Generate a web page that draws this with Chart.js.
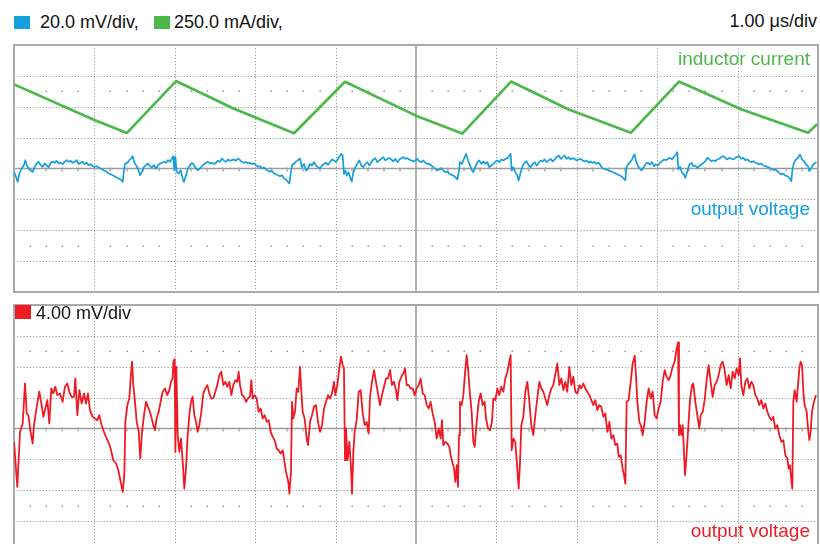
<!DOCTYPE html>
<html>
<head>
<meta charset="utf-8">
<title>Buck converter ripple</title>
<script src="https://cdn.jsdelivr.net/npm/chart.js@4.4.1/dist/chart.umd.min.js"></script>
<style>
  html, body { margin: 0; padding: 0; background: #fff; }
  body {
    width: 820px; height: 544px; position: relative; overflow: hidden;
    font-family: 'Liberation Sans', Arial, Helvetica, sans-serif;
  }
  canvas { position: absolute; left: 4px; }
  #topScope { top: 35px; }
  #bottomScope { top: 295px; }
  .label { position: absolute; font-size: 18px; line-height: 18px; white-space: nowrap; color: #111; }
  .trace { font-size: 19px; line-height: 19px; right: 10px; }
  .swatch { position: absolute; width: 16px; height: 13px; }
</style>
</head>
<body>
<canvas id="topScope" width="824" height="267"></canvas>
<canvas id="bottomScope" width="824" height="267"></canvas>

<div class="swatch" style="left:14px; top:16px; background:#159fdb;"></div>
<div class="label" style="left:40px; top:13px;" id="blueScale"></div>
<div class="swatch" style="left:154px; top:16px; background:#4cb849;"></div>
<div class="label" style="left:174px; top:13px;" id="greenScale"></div>
<div class="label" style="right:3px; top:12px;" id="timeScale"></div>

<div class="label trace" style="top:49px; color:#4cb849;" id="greenName"></div>
<div class="label trace" style="top:199px; color:#159fdb;" id="blueName"></div>

<div class="swatch" style="left:15px; top:305px; height:14px; background:#ed1c24;"></div>
<div class="label" style="left:36px; top:304px;" id="redScale"></div>
<div class="label trace" style="top:521px; color:#ed1c24;" id="redName"></div>

<script>
// channel settings (per division)
const TIME_PER_DIV = 1.0;      // µs
const BLUE_MV_PER_DIV = 20.0;
const GREEN_MA_PER_DIV = 250.0;
const RED_MV_PER_DIV = 4.0;

const scaleLabels = ['20.0 mV/div,', '250.0 mA/div,', '1.00 \u03bcs/div', '4.00 mV/div'];
const traceNames = ['inductor current', 'output voltage', 'output voltage'];

// inductor current, [µs, mA]
const greenTrace = [
    [0.000, 681], [0.986, 397], [1.405, 288], [2.015, 708], [2.730, 486],
    [3.483, 286], [4.117, 702], [5.000, 428], [5.576, 283], [6.182, 704],
    [6.900, 478], [7.674, 290], [8.271, 704], [9.050, 478], [9.876, 290],
    [9.988, 359]
];

// output voltage, AC coupled, [µs, mV]
const blueTrace = [
    [0.000,-2.17],[0.025,-5.41],[0.046,-8.66],[0.066,-3.25],[0.095,0.00],[0.124,2.17],[0.141,5.41],[0.158,2.17],
    [0.182,0.00],[0.207,-1.08],[0.232,-2.17],[0.257,1.08],[0.282,3.25],[0.307,4.33],[0.332,2.17],[0.357,1.08],
    [0.381,3.25],[0.406,2.17],[0.431,0.65],[0.456,3.68],[0.481,4.33],[0.506,3.68],[0.531,4.98],[0.556,3.25],
    [0.580,3.68],[0.605,2.81],[0.630,4.33],[0.655,5.41],[0.680,4.33],[0.705,4.98],[0.730,3.68],[0.755,4.33],
    [0.779,5.41],[0.804,2.81],[0.829,3.68],[0.854,4.33],[0.879,2.81],[0.904,3.68],[0.929,2.17],[0.954,2.81],
    [0.978,1.52],[1.003,1.08],[1.028,1.52],[1.053,0.65],[1.078,0.00],[1.103,-0.65],[1.128,-1.52],[1.153,-2.17],
    [1.177,-3.25],[1.202,-3.68],[1.227,-4.33],[1.252,-4.98],[1.277,-5.85],[1.302,-6.50],[1.327,-7.14],[1.352,-8.66],
    [1.368,-1.08],[1.381,3.25],[1.410,3.68],[1.434,5.41],[1.459,6.50],[1.476,8.01],[1.493,4.33],[1.517,2.17],
    [1.542,0.00],[1.567,-4.33],[1.592,-2.17],[1.617,1.08],[1.642,2.17],[1.667,3.25],[1.692,1.52],[1.716,0.65],
    [1.741,2.17],[1.766,0.00],[1.791,2.17],[1.816,3.25],[1.841,3.68],[1.866,4.33],[1.891,3.68],[1.915,5.41],
    [1.940,4.33],[1.965,6.50],[1.982,8.01],[1.994,-1.08],[2.007,7.58],[2.023,-2.17],[2.048,-3.25],[2.073,-1.08],
    [2.098,-6.50],[2.114,-8.66],[2.139,-4.33],[2.164,0.00],[2.189,2.17],[2.214,3.68],[2.239,2.17],[2.264,0.00],
    [2.289,-1.08],[2.313,0.00],[2.338,1.52],[2.363,2.81],[2.388,3.68],[2.413,4.33],[2.438,3.25],[2.463,3.68],
    [2.488,2.81],[2.512,3.68],[2.537,4.98],[2.562,4.33],[2.587,6.50],[2.612,4.98],[2.637,4.33],[2.662,5.85],
    [2.687,4.98],[2.711,5.41],[2.736,5.85],[2.761,4.98],[2.786,6.50],[2.811,5.41],[2.836,4.33],[2.861,3.68],
    [2.886,4.33],[2.910,3.25],[2.935,3.68],[2.960,2.81],[2.985,3.25],[3.010,2.17],[3.035,1.08],[3.060,1.52],
    [3.085,0.00],[3.109,0.65],[3.134,-0.65],[3.159,-1.52],[3.184,-2.17],[3.209,-1.52],[3.234,-3.25],[3.259,-3.68],
    [3.284,-4.33],[3.308,-4.98],[3.333,-4.33],[3.358,-6.50],[3.383,-7.14],[3.408,-8.66],[3.425,-9.74],[3.441,-3.25],
    [3.458,2.17],[3.483,3.25],[3.507,4.33],[3.532,5.41],[3.557,6.50],[3.582,0.87],[3.607,3.03],[3.632,-1.30],
    [3.657,-0.22],[3.682,3.03],[3.706,1.95],[3.731,4.11],[3.756,1.95],[3.781,0.87],[3.806,0.22],[3.831,1.95],
    [3.856,3.03],[3.881,3.68],[3.905,2.38],[3.930,4.11],[3.955,5.85],[3.980,5.20],[4.005,4.11],[4.030,6.28],
    [4.055,8.44],[4.071,9.53],[4.088,8.44],[4.104,-3.46],[4.121,-1.30],[4.138,-4.55],[4.163,-2.38],[4.179,-5.63],
    [4.200,-8.44],[4.221,-2.38],[4.245,0.87],[4.270,3.03],[4.295,5.20],[4.320,1.95],[4.345,0.87],[4.370,3.03],
    [4.395,4.11],[4.420,1.95],[4.444,4.11],[4.469,5.85],[4.494,6.71],[4.519,4.11],[4.544,5.20],[4.569,6.28],
    [4.594,7.36],[4.619,5.20],[4.643,6.28],[4.668,6.71],[4.693,5.85],[4.718,4.55],[4.743,6.28],[4.768,4.11],
    [4.793,5.85],[4.818,6.71],[4.842,7.36],[4.867,6.28],[4.892,6.71],[4.917,5.85],[4.942,5.20],[4.967,4.55],
    [4.992,5.20],[5.017,6.28],[5.041,4.55],[5.066,4.11],[5.091,5.20],[5.116,3.68],[5.141,3.03],[5.166,3.03],
    [5.191,1.95],[5.216,0.87],[5.240,-0.22],[5.265,-1.30],[5.290,-0.65],[5.315,0.22],[5.340,-1.30],[5.365,-2.38],
    [5.390,-1.95],[5.415,-3.46],[5.439,-4.11],[5.464,-4.55],[5.489,-5.63],[5.514,-7.14],[5.531,-2.38],[5.547,4.11],
    [5.572,3.03],[5.597,6.28],[5.622,9.53],[5.647,5.20],[5.672,1.95],[5.697,-1.30],[5.713,-2.38],[5.738,0.87],
    [5.763,4.11],[5.788,5.20],[5.813,3.03],[5.837,4.55],[5.862,3.03],[5.887,4.11],[5.912,0.87],[5.937,1.95],
    [5.962,3.03],[5.987,4.55],[6.012,5.20],[6.036,4.11],[6.061,5.85],[6.086,5.20],[6.111,6.28],[6.136,6.71],
    [6.161,8.44],[6.177,9.53],[6.190,-1.30],[6.211,0.87],[6.235,-2.38],[6.260,-4.55],[6.277,-7.79],[6.302,-2.38],
    [6.327,1.95],[6.352,3.68],[6.376,4.55],[6.401,1.95],[6.426,0.87],[6.451,3.03],[6.476,4.11],[6.501,1.95],
    [6.526,3.68],[6.551,5.20],[6.575,4.55],[6.600,5.85],[6.625,4.11],[6.650,5.20],[6.675,6.28],[6.700,4.55],
    [6.725,5.85],[6.750,7.36],[6.774,8.44],[6.799,6.28],[6.824,7.36],[6.849,8.44],[6.874,6.28],[6.899,7.36],
    [6.924,5.85],[6.949,6.71],[6.973,6.28],[6.998,5.20],[7.023,5.85],[7.048,6.28],[7.073,5.20],[7.098,4.55],
    [7.123,5.20],[7.148,3.68],[7.172,4.55],[7.197,3.68],[7.222,4.11],[7.247,3.03],[7.272,3.68],[7.289,2.60],
    [7.313,0.43],[7.338,-0.22],[7.363,-0.65],[7.388,-1.08],[7.413,-1.73],[7.438,-1.95],[7.463,-2.81],[7.488,-3.25],
    [7.512,-3.90],[7.537,-4.55],[7.562,-5.41],[7.587,-6.71],[7.604,-7.58],[7.616,0.43],[7.637,2.60],[7.662,4.11],
    [7.687,5.85],[7.703,8.01],[7.720,9.09],[7.736,4.76],[7.761,1.52],[7.786,-0.22],[7.811,-1.08],[7.836,1.08],
    [7.861,3.25],[7.886,3.68],[7.910,2.60],[7.935,4.11],[7.960,1.52],[7.985,2.60],[8.010,1.95],[8.035,3.68],
    [8.060,4.76],[8.085,5.85],[8.109,5.41],[8.134,6.28],[8.159,6.93],[8.184,5.85],[8.209,7.58],[8.234,9.09],
    [8.250,10.61],[8.263,-0.65],[8.284,1.08],[8.308,-2.81],[8.333,-3.90],[8.350,-6.06],[8.375,-1.73],[8.400,2.60],
    [8.425,3.68],[8.449,1.52],[8.474,1.95],[8.499,0.43],[8.524,1.52],[8.549,2.60],[8.574,3.68],[8.599,4.76],
    [8.624,6.93],[8.648,5.85],[8.673,4.76],[8.698,5.41],[8.723,4.76],[8.748,5.85],[8.773,6.28],[8.798,7.58],
    [8.823,8.01],[8.847,6.93],[8.872,5.85],[8.897,6.93],[8.922,6.28],[8.947,5.85],[8.972,6.93],[8.997,7.58],
    [9.022,8.01],[9.046,6.28],[9.071,6.93],[9.096,5.41],[9.121,5.85],[9.146,4.76],[9.171,4.11],[9.196,4.76],
    [9.221,3.68],[9.245,3.25],[9.270,2.60],[9.295,3.25],[9.320,1.95],[9.345,1.52],[9.370,1.08],[9.395,0.43],
    [9.420,-0.22],[9.444,-1.08],[9.469,-0.65],[9.494,-1.73],[9.519,-2.81],[9.544,-3.90],[9.569,-3.25],[9.594,-4.55],
    [9.619,-4.98],[9.643,-6.06],[9.668,-8.23],[9.685,0.43],[9.701,3.68],[9.726,5.85],[9.751,6.93],[9.776,9.09],
    [9.801,5.85],[9.826,4.76],[9.851,2.60],[9.876,1.52],[9.892,-1.73],[9.917,0.43],[9.942,2.60],[9.967,3.68],
    [9.983,4.11]
];

// output voltage, zoomed in, [µs, mV]
const redTrace = [
    [0.000,-1.73],[0.041,-7.57],[0.075,-0.43],[0.108,0.65],[0.137,5.84],[0.158,1.95],[0.178,1.73],[0.207,-0.43],
    [0.232,-1.95],[0.249,0.43],[0.282,2.81],[0.315,4.76],[0.344,3.03],[0.365,1.51],[0.390,2.59],[0.415,3.68],
    [0.439,0.65],[0.464,5.19],[0.489,4.54],[0.514,5.41],[0.539,4.32],[0.572,4.54],[0.605,3.46],[0.634,5.41],
    [0.663,5.84],[0.688,4.76],[0.717,4.11],[0.746,4.11],[0.763,6.49],[0.788,1.73],[0.813,4.97],[0.842,3.24],
    [0.871,4.54],[0.896,3.24],[0.920,4.54],[0.945,2.38],[0.978,1.51],[1.007,1.30],[1.036,1.08],[1.061,1.73],
    [1.090,0.43],[1.119,-0.43],[1.144,-1.08],[1.173,-1.73],[1.202,-2.59],[1.235,-4.11],[1.269,-4.54],[1.298,-5.41],
    [1.327,-6.92],[1.352,-8.22],[1.372,-6.05],[1.385,0.86],[1.410,3.03],[1.434,3.89],[1.451,6.49],[1.468,8.65],
    [1.484,5.62],[1.505,3.46],[1.526,0.86],[1.551,-0.43],[1.571,-3.89],[1.592,-0.43],[1.617,1.73],[1.642,3.46],
    [1.658,3.03],[1.683,2.38],[1.708,1.51],[1.733,0.43],[1.754,-0.22],[1.774,1.30],[1.799,2.16],[1.824,3.46],
    [1.849,4.76],[1.878,5.19],[1.907,4.32],[1.932,4.97],[1.953,6.05],[1.973,6.49],[1.982,8.65],[1.998,8.99],
    [2.007,-3.03],[2.019,8.00],[2.036,-0.86],[2.056,-3.03],[2.077,-1.30],[2.098,-4.32],[2.119,-7.78],[2.139,-5.19],
    [2.160,-0.86],[2.181,1.73],[2.201,3.46],[2.222,4.11],[2.243,1.73],[2.264,0.86],[2.284,-0.43],[2.305,0.43],
    [2.330,2.16],[2.355,4.54],[2.380,5.19],[2.405,5.62],[2.430,4.54],[2.454,3.89],[2.479,3.89],[2.504,4.76],
    [2.529,5.62],[2.554,6.92],[2.579,7.35],[2.604,5.62],[2.629,6.05],[2.653,5.41],[2.678,6.05],[2.703,4.32],
    [2.728,5.62],[2.753,6.27],[2.778,6.05],[2.794,7.35],[2.811,5.62],[2.836,4.32],[2.861,4.11],[2.886,3.46],
    [2.910,3.89],[2.935,4.11],[2.952,6.27],[2.969,3.89],[2.993,4.32],[3.018,3.89],[3.043,2.16],[3.068,2.59],
    [3.093,1.30],[3.118,1.73],[3.143,0.86],[3.168,1.08],[3.192,-0.43],[3.217,-1.08],[3.242,-1.51],[3.267,-2.59],
    [3.292,-2.81],[3.317,-3.24],[3.342,-2.81],[3.358,-3.89],[3.383,-5.62],[3.412,-6.92],[3.425,-8.43],[3.445,-5.62],
    [3.458,3.46],[3.474,1.30],[3.495,2.16],[3.516,5.19],[3.536,4.76],[3.557,8.00],[3.574,4.76],[3.590,2.16],
    [3.615,1.30],[3.640,-1.30],[3.657,-2.16],[3.682,0.86],[3.706,1.73],[3.731,2.81],[3.756,3.03],[3.781,0.86],
    [3.806,-0.43],[3.831,0.43],[3.856,2.59],[3.881,3.46],[3.905,4.32],[3.930,3.89],[3.955,4.54],[3.980,6.05],
    [3.997,4.32],[4.022,5.62],[4.046,7.78],[4.067,9.30],[4.088,8.22],[4.104,7.78],[4.117,-4.11],[4.129,0.00],
    [4.150,-4.11],[4.171,-1.73],[4.192,-5.19],[4.204,-8.43],[4.221,-3.03],[4.237,-0.43],[4.262,1.08],[4.287,4.76],
    [4.312,4.97],[4.337,1.95],[4.362,0.43],[4.386,0.86],[4.411,-0.65],[4.428,4.11],[4.453,6.05],[4.478,7.57],
    [4.502,6.05],[4.527,4.54],[4.552,3.03],[4.577,4.32],[4.602,5.41],[4.627,6.49],[4.652,6.49],[4.677,7.57],
    [4.701,5.62],[4.726,6.05],[4.751,4.97],[4.768,3.68],[4.793,6.05],[4.818,6.70],[4.842,7.13],[4.863,7.78],
    [4.884,5.62],[4.909,5.62],[4.934,5.19],[4.959,5.19],[4.983,4.32],[5.008,5.19],[5.033,5.62],[5.058,6.49],
    [5.083,4.54],[5.108,4.32],[5.133,3.03],[5.158,2.59],[5.182,3.46],[5.207,1.95],[5.232,0.86],[5.257,-1.30],
    [5.282,0.00],[5.307,-1.30],[5.323,1.08],[5.340,-2.16],[5.365,-1.73],[5.390,-1.95],[5.415,-2.38],[5.431,-3.46],
    [5.456,-4.54],[5.473,-5.19],[5.489,-6.92],[5.506,-4.76],[5.522,-7.57],[5.535,-0.86],[5.547,3.46],[5.568,3.03],
    [5.589,4.32],[5.609,7.13],[5.630,9.51],[5.651,7.35],[5.672,4.32],[5.692,2.16],[5.713,-1.73],[5.730,-2.38],
    [5.755,0.86],[5.779,3.46],[5.804,4.54],[5.829,3.03],[5.854,3.46],[5.871,1.30],[5.896,0.00],[5.920,-0.22],
    [5.945,0.86],[5.962,3.89],[5.987,3.68],[6.012,5.19],[6.036,4.32],[6.061,5.41],[6.086,4.76],[6.111,6.49],
    [6.136,7.35],[6.161,8.65],[6.177,9.51],[6.190,-2.81],[6.211,-1.30],[6.235,-1.73],[6.260,-5.19],[6.277,-7.78],
    [6.294,-4.32],[6.310,0.43],[6.335,1.51],[6.360,4.76],[6.385,6.05],[6.410,3.46],[6.434,0.43],[6.459,-0.86],
    [6.484,1.73],[6.509,3.89],[6.534,6.05],[6.559,5.19],[6.584,4.76],[6.609,3.89],[6.633,3.03],[6.658,4.32],
    [6.683,5.19],[6.708,5.62],[6.758,8.43],[6.783,5.62],[6.808,6.49],[6.833,4.97],[6.857,6.05],[6.882,4.76],
    [6.907,8.00],[6.932,5.62],[6.957,6.70],[6.982,4.76],[7.007,4.54],[7.032,5.62],[7.056,5.19],[7.081,5.84],
    [7.106,5.19],[7.131,4.76],[7.156,4.32],[7.181,3.68],[7.206,3.03],[7.231,3.68],[7.255,2.38],[7.280,3.03],
    [7.305,2.81],[7.330,1.51],[7.355,1.95],[7.380,-0.43],[7.405,0.86],[7.430,-1.30],[7.454,-0.86],[7.479,-2.16],
    [7.504,-1.95],[7.521,-3.68],[7.546,-3.46],[7.570,-5.19],[7.587,-6.05],[7.604,-7.13],[7.620,3.46],[7.645,3.68],
    [7.670,6.05],[7.695,8.43],[7.720,9.43],[7.736,6.92],[7.753,3.46],[7.778,0.86],[7.803,0.22],[7.819,-0.86],
    [7.844,0.86],[7.869,3.46],[7.894,5.19],[7.919,3.89],[7.944,4.76],[7.968,1.73],[7.993,1.30],[8.018,2.59],
    [8.043,3.46],[8.068,6.05],[8.093,7.57],[8.118,6.70],[8.143,6.27],[8.167,6.92],[8.192,8.00],[8.217,8.65],
    [8.242,10.38],[8.259,11.16],[8.271,-0.86],[8.284,0.43],[8.300,-0.86],[8.317,0.43],[8.333,-3.03],[8.346,-6.05],
    [8.362,-3.89],[8.383,-0.43],[8.408,3.68],[8.433,5.62],[8.449,5.84],[8.474,3.46],[8.499,1.73],[8.524,0.00],
    [8.541,1.73],[8.566,2.16],[8.590,3.68],[8.615,6.27],[8.640,8.22],[8.665,6.05],[8.690,4.11],[8.715,5.62],
    [8.740,6.05],[8.765,6.92],[8.789,8.22],[8.814,8.65],[8.839,7.57],[8.864,5.62],[8.889,6.92],[8.914,5.19],
    [8.939,7.35],[8.964,6.49],[8.988,7.78],[9.013,6.92],[9.030,9.08],[9.046,5.62],[9.071,4.32],[9.096,6.05],
    [9.121,6.49],[9.146,5.19],[9.171,6.05],[9.196,5.62],[9.221,4.32],[9.245,3.89],[9.270,3.03],[9.295,3.68],
    [9.320,2.59],[9.345,3.24],[9.370,2.16],[9.395,1.51],[9.420,1.08],[9.444,1.51],[9.469,0.00],[9.494,0.43],
    [9.519,-0.86],[9.544,-1.73],[9.569,-1.51],[9.594,-3.46],[9.619,-3.89],[9.635,-5.19],[9.652,-4.76],[9.668,-6.70],
    [9.681,-7.78],[9.693,3.46],[9.710,4.97],[9.735,3.46],[9.751,5.62],[9.768,7.78],[9.784,8.65],[9.801,8.22],
    [9.818,4.76],[9.834,3.03],[9.859,2.16],[9.876,0.00],[9.892,-1.51],[9.909,-0.43],[9.925,2.16],[9.950,3.46],
    [9.975,4.32]
];

const COLORS = {
    blue: '#159fdb',
    green: '#4cb849',
    red: '#ed1c24',
    dots: '#979797',
    axis: '#9d9d9d',
    frame: '#a9a9a9'
};

// scope graticule: 10 x 8 divisions, dotted grid, solid centre axes
const graticule = {
    id: 'graticule',
    beforeDatasetsDraw(chart) {
        const ctx = chart.ctx;
        const a = chart.chartArea;
        const dx = (a.right - a.left) / 10;
        const dy = (a.bottom - a.top) / 8;
        const cx = a.left + 5 * dx;
        const cy = a.top + 4 * dy;

        ctx.save();
        ctx.strokeStyle = COLORS.dots;
        ctx.lineWidth = 1;
        ctx.setLineDash([1.2, 2]);
        ctx.beginPath();
        for (let i = 1; i < 10; i++) {
            if (i === 5) continue;
            const x = Math.round(a.left + i * dx) + 0.5;
            ctx.moveTo(x, a.top);
            ctx.lineTo(x, a.bottom);
        }
        for (let j = 1; j < 8; j++) {
            if (j === 4) continue;
            const y = Math.round(a.top + j * dy) + 0.5;
            ctx.moveTo(a.left, y);
            ctx.lineTo(a.right, y);
        }
        ctx.stroke();
        ctx.setLineDash([]);

        // sparse marker rows half a division off the grid
        ctx.fillStyle = COLORS.dots;
        [1.5, 6.5].forEach(function(row) {
            const y = Math.round(a.top + row * dy);
            for (let k = 1; k < 50; k++) {
                if (k % 5 === 0) continue;
                ctx.fillRect(Math.round(a.left + k * dx / 5) - 0.5, y - 0.5, 1.5, 1.5);
            }
        });

        // centre axes with minor ticks
        ctx.strokeStyle = COLORS.axis;
        ctx.lineWidth = 1.6;
        ctx.beginPath();
        ctx.moveTo(a.left, cy);
        ctx.lineTo(a.right, cy);
        ctx.moveTo(cx, a.top);
        ctx.lineTo(cx, a.bottom);
        ctx.stroke();
        ctx.lineWidth = 1.2;
        ctx.beginPath();
        for (let k = 1; k < 50; k++) {
            if (k % 5 === 0) continue;
            const x = Math.round(a.left + k * dx / 5);
            ctx.moveTo(x, cy - 1);
            ctx.lineTo(x, cy + 3);
        }
        ctx.stroke();

        ctx.strokeStyle = COLORS.frame;
        ctx.lineWidth = 2;
        ctx.strokeRect(a.left, a.top, a.right - a.left, a.bottom - a.top);
        ctx.restore();
    }
};

function toPoints(trace) {
    return trace.map(function(p) { return { x: p[0], y: p[1] }; });
}

function traceDataset(trace, color, width, axisId) {
    return {
        data: toPoints(trace),
        borderColor: color,
        borderWidth: width,
        borderJoinStyle: 'round',
        pointRadius: 0,
        tension: 0,
        fill: false,
        yAxisID: axisId
    };
}

function hiddenAxis(min, max) {
    return { type: 'linear', min: min, max: max, display: false };
}

function scopeOptions(yAxes) {
    const scales = { x: hiddenAxis(0, 10 * TIME_PER_DIV) };
    Object.assign(scales, yAxes);
    return {
        responsive: false,
        animation: false,
        events: [],
        layout: { padding: 10 },
        plugins: {
            legend: { display: false },
            tooltip: { enabled: false }
        },
        scales: scales
    };
}

function createTopScope() {
    const ctx = document.getElementById('topScope').getContext('2d');

    new Chart(ctx, {
        type: 'line',
        data: {
            datasets: [
                traceDataset(blueTrace, COLORS.blue, 1.7, 'yBlue'),
                traceDataset(greenTrace, COLORS.green, 2.7, 'yGreen')
            ]
        },
        options: scopeOptions({
            yBlue: hiddenAxis(-4 * BLUE_MV_PER_DIV, 4 * BLUE_MV_PER_DIV),
            yGreen: hiddenAxis(-4 * GREEN_MA_PER_DIV, 4 * GREEN_MA_PER_DIV)
        }),
        plugins: [graticule]
    });
}

function createBottomScope() {
    const ctx = document.getElementById('bottomScope').getContext('2d');

    new Chart(ctx, {
        type: 'line',
        data: {
            datasets: [traceDataset(redTrace, COLORS.red, 1.8, 'yRed')]
        },
        options: scopeOptions({
            yRed: hiddenAxis(-4 * RED_MV_PER_DIV, 4 * RED_MV_PER_DIV)
        }),
        plugins: [graticule]
    });
}

function fillLabels() {
    document.getElementById('blueScale').textContent = scaleLabels[0];
    document.getElementById('greenScale').textContent = scaleLabels[1];
    document.getElementById('timeScale').textContent = scaleLabels[2];
    document.getElementById('redScale').textContent = scaleLabels[3];
    document.getElementById('greenName').textContent = traceNames[0];
    document.getElementById('blueName').textContent = traceNames[1];
    document.getElementById('redName').textContent = traceNames[2];
}

document.addEventListener('DOMContentLoaded', function() {
    fillLabels();
    createTopScope();
    createBottomScope();
});
</script>
</body>
</html>
